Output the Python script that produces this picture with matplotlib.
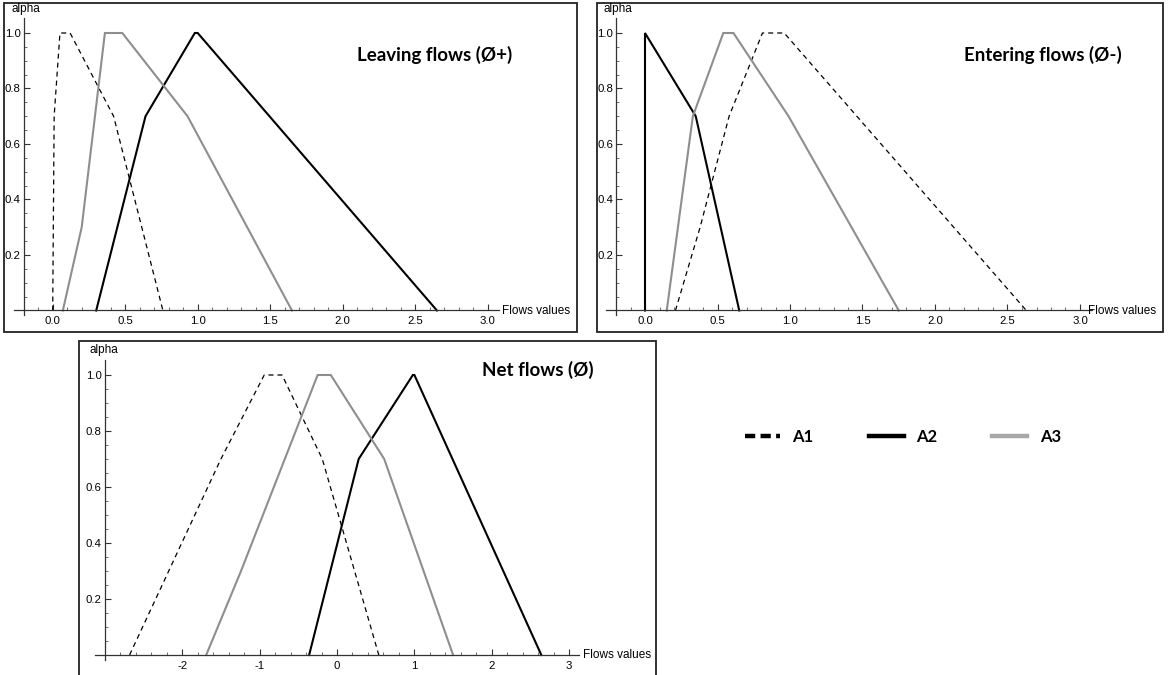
import matplotlib
matplotlib.use('Agg')
import numpy as np
import matplotlib.pyplot as plt
from matplotlib.patches import Rectangle
from matplotlib.lines import Line2D
from matplotlib.ticker import FixedLocator, FormatStrFormatter

# ---------------- data ----------------
series_names = ['A1', 'A2', 'A3']

# Leaving flows (phi+)
leave_a1_x = [0.0, 0.01, 0.05, 0.12, 0.42, 0.76]
leave_a1_y = [0.0, 0.7, 1.0, 1.0, 0.7, 0.0]
leave_a2_x = [0.30, 0.64, 0.98, 1.00, 2.65]
leave_a2_y = [0.0, 0.7, 1.0, 1.0, 0.0]
leave_a3_x = [0.07, 0.20, 0.36, 0.48, 0.93, 1.65]
leave_a3_y = [0.0, 0.3, 1.0, 1.0, 0.7, 0.0]

# Entering flows (phi-)
enter_a1_x = [0.21, 0.38, 0.58, 0.81, 0.96, 2.63]
enter_a1_y = [0.0, 0.3, 0.7, 1.0, 1.0, 0.0]
enter_a2_x = [0.0, 0.0, 0.35, 0.65]
enter_a2_y = [0.0, 1.0, 0.7, 0.0]
enter_a3_x = [0.15, 0.33, 0.54, 0.61, 0.99, 1.75]
enter_a3_y = [0.0, 0.7, 1.0, 1.0, 0.7, 0.0]

# Net flows (phi)
net_a1_x = [-2.68, -1.50, -0.94, -0.71, -0.19, 0.54]
net_a1_y = [0.0, 0.7, 1.0, 1.0, 0.7, 0.0]
net_a2_x = [-0.36, 0.28, 0.98, 1.00, 2.64]
net_a2_y = [0.0, 0.7, 1.0, 1.0, 0.0]
net_a3_x = [-1.69, -1.24, -0.25, -0.08, 0.61, 1.50]
net_a3_y = [0.0, 0.3, 1.0, 1.0, 0.7, 0.0]

titles = ['Leaving flows (Ø+)', 'Entering flows (Ø-)', 'Net flows (Ø)']
x_ticks_12 = [0.0, 0.5, 1.0, 1.5, 2.0, 2.5, 3.0]
x_ticks_3 = [-2, -1, 0, 1, 2, 3]
y_ticks = [0.2, 0.4, 0.6, 0.8, 1.0]

# ---------------- style ----------------
W, H = 1169, 675
plt.rcParams['font.family'] = ['Liberation Sans', 'DejaVu Sans']
fig = plt.figure(figsize=(W / 100, H / 100), dpi=100)

GRAY = '#8e8e8e'
styles = {
    'A1': dict(color='black', lw=0.9, dashes=(4, 3.2)),
    'A2': dict(color='black', lw=1.5),
    'A3': dict(color=GRAY, lw=1.5),
}
TITLE_FONT = ['Lato', 'DejaVu Sans']


def place(x0px, sx, y0px, sy, xlim, ylim):
    left = x0px + xlim[0] * sx
    right = x0px + xlim[1] * sx
    top = y0px - ylim[1] * sy
    bottom = y0px - ylim[0] * sy
    return [left / W, 1 - bottom / H, (right - left) / W, (bottom - top) / H]


def frame(x0, y0, x1, y1):
    fig.add_artist(Rectangle((x0 / W, 1 - y1 / H), (x1 - x0) / W, (y1 - y0) / H,
                             transform=fig.transFigure, fill=False,
                             lw=1.3, edgecolor='#222222'))


def fig_text(x, y, s, **kw):
    fig.text(x / W, 1 - y / H, s, **kw)


def make_panel(rect, xlim, ylim, yaxis_x, xticks, xminor, xfmt, data):
    ax = fig.add_axes(rect)
    ax.set_xlim(*xlim)
    ax.set_ylim(*ylim)
    ax.patch.set_alpha(0)
    for sp in ['top', 'right']:
        ax.spines[sp].set_visible(False)
    ax.spines['left'].set_position(('data', yaxis_x))
    ax.spines['bottom'].set_position(('data', 0))
    ax.spines['left'].set_bounds(-0.017, 1.054)
    for sp in ['left', 'bottom']:
        ax.spines[sp].set_linewidth(0.9)
        ax.spines[sp].set_color('#333333')
    ax.xaxis.set_major_locator(FixedLocator(xticks))
    ax.xaxis.set_minor_locator(FixedLocator(xminor))
    ax.xaxis.set_major_formatter(xfmt)
    ax.yaxis.set_major_locator(FixedLocator(y_ticks))
    ax.yaxis.set_minor_locator(FixedLocator(np.arange(0.05, 1.01, 0.05)))
    ax.yaxis.set_major_formatter(FormatStrFormatter('%.1f'))
    ax.tick_params(which='major', direction='in', length=4, width=0.8,
                   color='#333333', labelsize=8.2, pad=2.2)
    ax.tick_params(which='minor', direction='in', length=2, width=0.6,
                   color='#555555')
    ax.tick_params(axis='x', pad=4)
    for name, (xs, ys) in zip(series_names, data):
        ax.plot(xs, ys, solid_joinstyle='miter', **styles[name])
    return ax


minor_12 = np.arange(-0.2, 3.01, 0.1)
minor_3 = np.arange(-3.0, 3.01, 0.2)

# Panel 1: Leaving flows
frame(4, 3, 577, 332)
make_panel(place(52.7, 145, 310.5, 277.5, (-0.27, 3.08), (-0.06, 1.06)),
           (-0.27, 3.08), (-0.06, 1.06), -0.2, x_ticks_12, minor_12,
           FormatStrFormatter('%.1f'),
           [(leave_a1_x, leave_a1_y), (leave_a2_x, leave_a2_y), (leave_a3_x, leave_a3_y)])
fig_text(12, 9, 'alpha', fontsize=8.5, va='center', ha='left')
fig_text(502, 311, 'Flows values', fontsize=8.5, va='center', ha='left')
fig_text(435, 55, titles[0], fontsize=13.5, fontweight='bold', family=TITLE_FONT,
         va='center', ha='center')

# Panel 2: Entering flows
frame(597, 3, 1163, 332)
make_panel(place(645, 145, 310.5, 277.5, (-0.27, 3.08), (-0.06, 1.06)),
           (-0.27, 3.08), (-0.06, 1.06), -0.2, x_ticks_12, minor_12,
           FormatStrFormatter('%.1f'),
           [(enter_a1_x, enter_a1_y), (enter_a2_x, enter_a2_y), (enter_a3_x, enter_a3_y)])
fig_text(603, 9, 'alpha', fontsize=8.5, va='center', ha='left')
fig_text(1088, 311, 'Flows values', fontsize=8.5, va='center', ha='left')
fig_text(1043, 55, titles[1], fontsize=13.5, fontweight='bold', family=TITLE_FONT,
         va='center', ha='center')

# Panel 3: Net flows
frame(79, 341, 656, 677)
make_panel(place(337, 77.4, 655, 280, (-3.13, 3.13), (-0.06, 1.06)),
           (-3.13, 3.13), (-0.06, 1.06), -3.0, x_ticks_3, minor_3,
           FormatStrFormatter('%d'),
           [(net_a1_x, net_a1_y), (net_a2_x, net_a2_y), (net_a3_x, net_a3_y)])
fig_text(89, 350, 'alpha', fontsize=8.5, va='center', ha='left')
fig_text(583, 655, 'Flows values', fontsize=8.5, va='center', ha='left')
fig_text(538, 370, titles[2], fontsize=13.5, fontweight='bold', family=TITLE_FONT,
         va='center', ha='center')

# Legend
handles = [
    Line2D([], [], color='black', lw=3.2, dashes=(2.3, 1.2)),
    Line2D([], [], color='black', lw=3.2),
    Line2D([], [], color='#a8a8a8', lw=3.2),
]
fig.legend(handles, series_names, loc='center left',
           bbox_to_anchor=(745 / W, 1 - 437 / H), ncol=3, frameon=False,
           borderpad=0, borderaxespad=0, handlelength=2.1, handletextpad=0.75,
           columnspacing=3.3,
           prop={'family': TITLE_FONT, 'weight': 'bold', 'size': 12})

fig.savefig('out.png', dpi=100)
